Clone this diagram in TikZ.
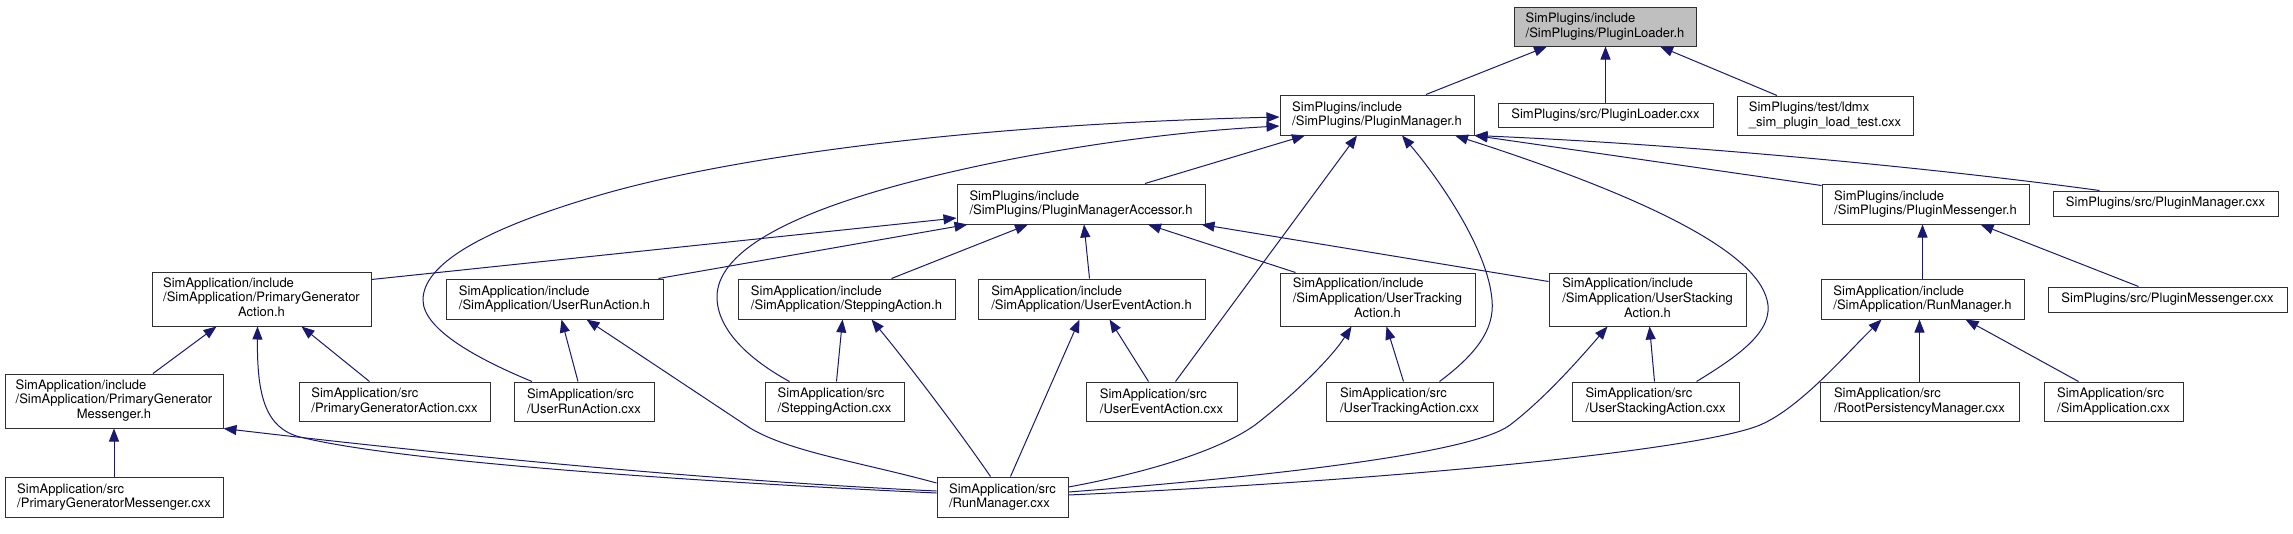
\documentclass[tikz,border=0pt]{standalone}
\usepackage{fontspec}
\setmainfont{TeX Gyre Heros}
\usetikzlibrary{arrows.meta}
\definecolor{edgeblue}{HTML}{191970}
\definecolor{curfill}{HTML}{BFBFBF}
\definecolor{boxline}{HTML}{303030}
\newcommand{\tlab}[3]{\begin{tabular}{@{}l@{}}#1\\#2\\\multicolumn{1}{@{}c@{}}{#3}\end{tabular}}
\tikzset{
  box/.style={draw=boxline, line width=1pt, fill=white, inner sep=0pt, align=left,
    font=\fontsize{13}{14.7}\selectfont},
  edge/.style={draw=edgeblue, line width=1pt, -{Triangle[length=13pt,width=10pt]}}
}
\begin{document}
\begin{tikzpicture}[x=1pt,y=-1pt]
\useasboundingbox[fill=white] (0,0) rectangle (2293,533);
% nodes
\node[box, fill=curfill, minimum width=182pt, minimum height=39pt] (PL) at (1605,26.5) {SimPlugins/include\\/SimPlugins/PluginLoader.h};
\node[box, minimum width=194pt, minimum height=40pt] (PM) at (1377,115) {SimPlugins/include\\/SimPlugins/PluginManager.h};
\node[box, minimum width=215pt, minimum height=24pt] (PLc) at (1605.5,115) {SimPlugins/src/PluginLoader.cxx};
\node[box, minimum width=176pt, minimum height=39pt] (LT) at (1825,115.5) {SimPlugins/test/ldmx\\\_sim\_plugin\_load\_test.cxx};
\node[box, minimum width=248pt, minimum height=40pt] (PMA) at (1081,204) {SimPlugins/include\\/SimPlugins/PluginManagerAccessor.h};
\node[box, minimum width=207pt, minimum height=40pt] (PMsg) at (1925.5,204) {SimPlugins/include\\/SimPlugins/PluginMessenger.h};
\node[box, minimum width=225pt, minimum height=25pt] (PMc) at (2165.5,203.5) {SimPlugins/src/PluginManager.cxx};
\node[box, minimum width=219pt, minimum height=54pt] (PGA) at (261.5,299) {\tlab{SimApplication/include}{/SimApplication/PrimaryGenerator}{Action.h}};
\node[box, minimum width=217pt, minimum height=40pt] (URA) at (554.5,299) {SimApplication/include\\/SimApplication/UserRunAction.h};
\node[box, minimum width=217pt, minimum height=40pt] (SA) at (846.5,299) {SimApplication/include\\/SimApplication/SteppingAction.h};
\node[box, minimum width=227pt, minimum height=40pt] (UEA) at (1091.5,299) {SimApplication/include\\/SimApplication/UserEventAction.h};
\node[box, minimum width=195pt, minimum height=53pt] (UTA) at (1377.5,299.5) {\tlab{SimApplication/include}{/SimApplication/UserTracking}{Action.h}};
\node[box, minimum width=197pt, minimum height=53pt] (USA) at (1647.5,299.5) {\tlab{SimApplication/include}{/SimApplication/UserStacking}{Action.h}};
\node[box, minimum width=203pt, minimum height=40pt] (RM) at (1922.5,299) {SimApplication/include\\/SimApplication/RunManager.h};
\node[box, minimum width=239pt, minimum height=25pt] (PMsgc) at (2167.5,299.5) {SimPlugins/src/PluginMessenger.cxx};
\node[box, minimum width=218pt, minimum height=54pt] (PGM) at (114,401) {\tlab{SimApplication/include}{/SimApplication/PrimaryGenerator}{Messenger.h}};
\node[box, minimum width=191pt, minimum height=39pt] (PGAc) at (394.5,401.5) {SimApplication/src\\/PrimaryGeneratorAction.cxx};
\node[box, minimum width=140pt, minimum height=39pt] (URAc) at (584,401.5) {SimApplication/src\\/UserRunAction.cxx};
\node[box, minimum width=139pt, minimum height=39pt] (SAc) at (834.5,401.5) {SimApplication/src\\/SteppingAction.cxx};
\node[box, minimum width=151pt, minimum height=39pt] (UEAc) at (1161.5,401.5) {SimApplication/src\\/UserEventAction.cxx};
\node[box, minimum width=167pt, minimum height=39pt] (UTAc) at (1409.5,401.5) {SimApplication/src\\/UserTrackingAction.cxx};
\node[box, minimum width=167pt, minimum height=39pt] (USAc) at (1655.5,401.5) {SimApplication/src\\/UserStackingAction.cxx};
\node[box, minimum width=199pt, minimum height=39pt] (RPM) at (1919.5,401.5) {SimApplication/src\\/RootPersistencyManager.cxx};
\node[box, minimum width=139pt, minimum height=39pt] (SimAppc) at (2113.5,401.5) {SimApplication/src\\/SimApplication.cxx};
\node[box, minimum width=218pt, minimum height=40pt] (PGMc) at (114,497) {SimApplication/src\\/PrimaryGeneratorMessenger.cxx};
\node[box, minimum width=131pt, minimum height=40pt] (RMc) at (1002.5,497) {SimApplication/src\\/RunManager.cxx};
% edges into PluginLoader.h
\draw[edge] ([xshift=49pt]PM.north) -- ([xshift=-58pt]PL.south);
\draw[edge] (PLc.north) -- (PLc.north |- PL.south);
\draw[edge] ([xshift=-48pt]LT.north) -- ([xshift=55pt]PL.south);
% edges into PluginManager.h
\draw[edge] ([xshift=64pt]PMA.north) -- ([xshift=-72pt]PM.south);
\draw[edge] ([yshift=-2pt]PMsg.north west) -- (PM.south east);
\draw[edge] ([xshift=-66pt]PMc.north) .. controls (1950,170) and (1700,145) .. (PM.south east);
\draw[edge] ([xshift=-52pt]URAc.north) .. controls (480,360) and (423,330) .. (423,300) .. controls (423,265) and (480,230) .. (600,195) .. controls (720,160) and (950,125) .. ([yshift=-2pt]PM.west);
\draw[edge] ([xshift=-45pt]SAc.north) .. controls (750,360) and (717,330) .. (717,297) .. controls (717,255) and (780,215) .. (918,180) .. controls (1020,154) and (1150,133) .. ([yshift=-11pt]PM.west);
\draw[edge] ([xshift=14pt]UEAc.north) -- ([xshift=-20pt]PM.south);
\draw[edge] ([xshift=30pt]UTAc.north) .. controls (1475,355) and (1495,330) .. (1492,300) .. controls (1488,250) and (1440,180) .. ([xshift=25pt]PM.south);
\draw[edge] ([xshift=41pt]USAc.north) .. controls (1740,355) and (1775,330) .. (1767,300) .. controls (1755,250) and (1640,195) .. ([xshift=78pt]PM.south);
% edges into PluginManagerAccessor.h
\draw[edge] ([yshift=-8pt]PGA.north east) -- ([yshift=-14pt]PMA.west);
\draw[edge] ([xshift=104pt]URA.north) -- ([xshift=11pt]PMA.south west);
\draw[edge] ([xshift=45pt]SA.north) -- ([xshift=-53pt]PMA.south);
\draw[edge] ([xshift=-2pt]UEA.north) -- ([xshift=3pt]PMA.south);
\draw[edge] ([xshift=-82pt]UTA.north) -- ([xshift=67pt]PMA.south);
\draw[edge] ([yshift=-9pt]USA.north west) -- ([xshift=-4pt]PMA.south east);
% PrimaryGeneratorAction.h
\draw[edge] ([xshift=39pt]PGM.north) -- ([xshift=-45pt]PGA.south);
\draw[edge] ([yshift=4pt]RMc.west) .. controls (700,482) and (400,462) .. (300,437) .. controls (265,428) and (257,395) .. ([xshift=-4pt]PGA.south);
\draw[edge] ([xshift=-25pt]PGAc.north) -- ([xshift=40pt]PGA.south);
% PrimaryGeneratorMessenger.h
\draw[edge] (PGMc.north) -- (PGM.south);
\draw[edge] ([yshift=6pt]RMc.west) .. controls (700,480) and (450,455) .. (PGM.south east);
% UserRunAction.h
\draw[edge] ([xshift=-6pt]URAc.north) -- ([xshift=7pt]URA.south);
\draw[edge] ([yshift=14pt]RMc.west) .. controls (860,462) and (790,452) .. (750,428) -- ([xshift=32pt]URA.south);
% SteppingAction.h
\draw[edge] ([xshift=2pt]SAc.north) -- ([xshift=-4pt]SA.south);
\draw[edge] ([xshift=-12pt]RMc.north) .. controls (955,425) and (905,360) .. ([xshift=25pt]SA.south);
% UserEventAction.h
\draw[edge] ([xshift=-13pt]UEAc.north) -- ([xshift=18pt]UEA.south);
\draw[edge] ([xshift=8pt]RMc.north) -- ([xshift=-12pt]UEA.south);
% UserTrackingAction.h
\draw[edge] ([xshift=-6pt]UTAc.north) -- ([xshift=9pt]UTA.south);
\draw[edge] ([yshift=10pt]RMc.east) .. controls (1150,472) and (1220,450) .. (1255,425) .. controls (1290,398) and (1330,360) .. ([xshift=-26pt]UTA.south);
% UserStackingAction.h
\draw[edge] ([xshift=-1pt]USAc.north) -- ([xshift=2pt]USA.south);
\draw[edge] ([yshift=5pt]RMc.east) .. controls (1250,478) and (1470,455) .. (1510,425) .. controls (1540,402) and (1570,370) .. ([xshift=-40pt]USA.south);
% RunManager.h
\draw[edge] ([yshift=2pt]RMc.east) .. controls (1400,480) and (1700,450) .. (1760,425) .. controls (1800,408) and (1845,355) .. ([xshift=-41pt]RM.south);
\draw[edge] (RPM.north) -- (RPM.north |- RM.south);
\draw[edge] ([xshift=-35pt]SimAppc.north) -- ([xshift=43pt]RM.south);
% PluginMessenger.h
\draw[edge] (RM.north) -- (RM.north |- PMsg.south);
\draw[edge] ([xshift=-29pt]PMsgc.north) -- ([xshift=55pt]PMsg.south);
\end{tikzpicture}
\end{document}
